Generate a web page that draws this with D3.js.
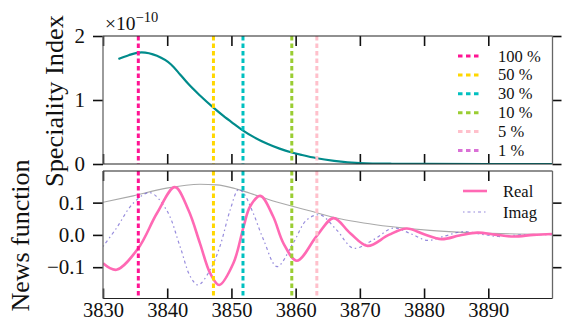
<!DOCTYPE html>
<html>
<head>
<meta charset="utf-8">
<script src="https://cdn.jsdelivr.net/npm/d3@7"></script>
<style>
  html, body { margin: 0; padding: 0; background: #fff; }
  svg { display: block; }
</style>
</head>
<body>
<svg id="chart" width="564" height="322" font-family="'Liberation Serif', 'DejaVu Serif', serif"></svg>
<script>
// ---------- data ----------
const xTicks = [3830, 3840, 3850, 3860, 3870, 3880, 3890];
const topYTicks = [0, 1, 2];
const botYTicks = [-0.1, 0.0, 0.1];

// Speciality index (in units of 1e-10)
const specX = [3832.4, 3834, 3836, 3838.4, 3840.6, 3842.0, 3843.2, 3845.1, 3847.2, 3848.7, 3850.2, 3851.7, 3853.5, 3855.5, 3857.5, 3859.4, 3861, 3863.3, 3866, 3870, 3875, 3880, 3890, 3900];
const specY = [1.64, 1.70, 1.745, 1.69, 1.555, 1.40, 1.26, 1.07, 0.88, 0.755, 0.64, 0.53, 0.42, 0.32, 0.24, 0.18, 0.14, 0.09, 0.05, 0.015, 0.004, 0.001, 0.0, 0.0];

// Threshold lines
const pctLabels = ["100 %", "50 %", "30 %", "10 %", "5 %", "1 %"];
const pctX = [3835.5, 3847.2, 3851.8, 3859.4, 3863.3, 3912];
const pctColors = ["#ff1493", "#ffd700", "#00c0c0", "#9acd32", "#ffc0cb", "#da70d6"];

// News function
const realX = [3830, 3832.1, 3835.5, 3838.4, 3841.2, 3843.3, 3845.1, 3846.7, 3848.1, 3850.3, 3851.9, 3852.9, 3854.5, 3856.5, 3858.1, 3860.2, 3863.3, 3865.9, 3868.5, 3871.2, 3874.5, 3877.3, 3880.0, 3882.7, 3885.5, 3888.3, 3891.0, 3893.9, 3897, 3900];
const realY = [-0.088, -0.108, -0.041, 0.067, 0.148, 0.077, -0.026, -0.119, -0.155, -0.088, 0.026, 0.088, 0.121, 0.057, -0.026, -0.080, -0.003, 0.052, 0.005, -0.034, 0.0, 0.020, 0.002, -0.013, -0.002, 0.007, 0.001, -0.005, 0.0, 0.003];

const imagX = [3830, 3832.1, 3834.7, 3837.3, 3839.9, 3842.0, 3843.6, 3844.8, 3846.7, 3848.2, 3849.8, 3851.1, 3851.9, 3853.4, 3855.0, 3857.1, 3859.6, 3861.7, 3863.8, 3866.4, 3869.0, 3872.1, 3875.2, 3878, 3880.5, 3883.3, 3886, 3889, 3891.6, 3895, 3900];
const imagY = [-0.036, 0.021, 0.098, 0.131, 0.077, -0.036, -0.129, -0.155, -0.108, -0.036, 0.077, 0.141, 0.129, 0.067, -0.015, -0.098, -0.026, 0.046, 0.062, 0.015, -0.041, -0.015, 0.021, 0.003, -0.017, -0.003, 0.010, 0.002, -0.005, 0.0, 0.001];

const envX = [3830, 3834.7, 3839.9, 3845.1, 3847.7, 3850.3, 3852.9, 3856.5, 3861.7, 3866.9, 3870.6, 3874.7, 3880.9, 3886, 3892, 3900];
const envY = [0.101, 0.121, 0.145, 0.157, 0.155, 0.145, 0.129, 0.105, 0.077, 0.050, 0.037, 0.026, 0.014, 0.008, 0.004, 0.002];

const newsLegend = ["Real", "Imag"];

// ---------- layout ----------
const FONT = "'Liberation Serif', 'DejaVu Serif', serif";
const svg = d3.select("#chart");
const L = 103, R = 552.5;
const topP = { t: 36, b: 164 };
const botP = { t: 171, b: 298.5 };

const x = d3.scaleLinear().domain([3830, 3900]).range([L, R]);
const yTop = d3.scaleLinear().domain([0, 2]).range([topP.b, topP.t]);
const yBot = d3.scaleLinear().domain([-0.197, 0.198]).range([botP.b, botP.t]);

const defs = svg.append("defs");
defs.append("clipPath").attr("id", "clipTop").append("rect")
  .attr("x", L).attr("y", topP.t).attr("width", R - L).attr("height", topP.b - topP.t);
defs.append("clipPath").attr("id", "clipBot").append("rect")
  .attr("x", L).attr("y", botP.t).attr("width", R - L).attr("height", botP.b - botP.t);

const fmtMinus = s => s.replace("-", "\u2212");

function styleText(sel, size) {
  sel.attr("font-size", size).attr("font-family", FONT).style("font-family", FONT).attr("fill", "#111");
  return sel;
}

function drawPanel(panel, y, yTicks, yFmt) {
  const gb = svg.append("g").attr("transform", `translate(0,${panel.b})`)
    .call(d3.axisBottom(x).tickValues(xTicks).tickSizeInner(-10).tickSizeOuter(0).tickFormat(""));
  const gt = svg.append("g").attr("transform", `translate(0,${panel.t})`)
    .call(d3.axisTop(x).tickValues(xTicks).tickSizeInner(-10).tickSizeOuter(0).tickFormat(""));
  const gl = svg.append("g").attr("transform", `translate(${L},0)`)
    .call(d3.axisLeft(y).tickValues(yTicks).tickSizeInner(10).tickSizeOuter(0).tickPadding(8).tickFormat(yFmt));
  const gr = svg.append("g").attr("transform", `translate(${R},0)`)
    .call(d3.axisRight(y).tickValues(yTicks).tickSizeInner(9).tickSizeOuter(0).tickFormat(""));
  [gb, gt, gl, gr].forEach(g => {
    g.attr("font-family", FONT);
    g.select(".domain").remove();
    g.selectAll(".tick line").attr("stroke", "#111").attr("stroke-width", 1.6);
  });
  styleText(gl.selectAll(".tick text"), 21);
}

// ---------- top panel ----------
drawPanel(topP, yTop, topYTicks, d => d3.format("d")(d));

const gTop = svg.append("g").attr("clip-path", "url(#clipTop)");
const specData = specX.map((d, i) => [d, specY[i]]);
gTop.append("path").datum(specData)
  .attr("fill", "none").attr("stroke", "#008b8b").attr("stroke-width", 2.2)
  .attr("d", d3.line().x(d => x(d[0])).y(d => yTop(d[1])).curve(d3.curveMonotoneX));

pctX.forEach((v, i) => {
  gTop.append("line").attr("x1", x(v)).attr("x2", x(v)).attr("y1", topP.t).attr("y2", topP.b)
    .attr("stroke", pctColors[i]).attr("stroke-width", 3).attr("stroke-dasharray", "4.5,3");
});

// offset text
const off = styleText(svg.append("text").attr("x", 105).attr("y", 29.5), 19.5);
off.append("tspan").text("\u00d710");
off.append("tspan").attr("font-size", 14.5).attr("dy", -7.5).text("\u221210");

// top legend
const lgTop = svg.append("g");
pctLabels.forEach((lab, i) => {
  const yy = 56 + i * 18.9;
  lgTop.append("line").attr("x1", 458).attr("x2", 481).attr("y1", yy).attr("y2", yy)
    .attr("stroke", pctColors[i]).attr("stroke-width", 3).attr("stroke-dasharray", "4.5,3.5");
  styleText(lgTop.append("text").attr("x", 498).attr("y", yy + 5.5), 16.5).text(lab);
});

// ---------- bottom panel ----------
drawPanel(botP, yBot, botYTicks, d => fmtMinus(d3.format(".1f")(d)));

const gBot = svg.append("g").attr("clip-path", "url(#clipBot)");
gBot.append("path").datum(envX.map((d, i) => [d, envY[i]]))
  .attr("fill", "none").attr("stroke", "#a9a9a9").attr("stroke-width", 1.1)
  .attr("d", d3.line().x(d => x(d[0])).y(d => yBot(d[1])).curve(d3.curveMonotoneX));
gBot.append("path").datum(imagX.map((d, i) => [d, imagY[i]]))
  .attr("fill", "none").attr("stroke", "#6a5acd").attr("stroke-width", 1.2).attr("stroke-opacity", 0.7)
  .attr("stroke-dasharray", "1.5,3,3,3")
  .attr("d", d3.line().x(d => x(d[0])).y(d => yBot(d[1])).curve(d3.curveCatmullRom.alpha(0.5)));
gBot.append("path").datum(realX.map((d, i) => [d, realY[i]]))
  .attr("fill", "none").attr("stroke", "#ff69b4").attr("stroke-width", 2.6)
  .attr("d", d3.line().x(d => x(d[0])).y(d => yBot(d[1])).curve(d3.curveCatmullRom.alpha(0.5)));

pctX.forEach((v, i) => {
  gBot.append("line").attr("x1", x(v)).attr("x2", x(v)).attr("y1", botP.t).attr("y2", botP.b)
    .attr("stroke", pctColors[i]).attr("stroke-width", 3).attr("stroke-dasharray", "4.5,3");
});

// bottom x labels
const gxl = svg.append("g").attr("transform", `translate(0,${botP.b})`)
  .call(d3.axisBottom(x).tickValues(xTicks).tickSize(0).tickPadding(4).tickFormat(d3.format("d")));
gxl.attr("font-family", FONT);
gxl.select(".domain").remove();
styleText(gxl.selectAll(".tick text"), 20.5);

// bottom legend
const lgBot = svg.append("g");
lgBot.append("line").attr("x1", 463).attr("x2", 487).attr("y1", 191).attr("y2", 191)
  .attr("stroke", "#ff69b4").attr("stroke-width", 2.6);
styleText(lgBot.append("text").attr("x", 503).attr("y", 196.5), 16.5).text(newsLegend[0]);
lgBot.append("line").attr("x1", 463).attr("x2", 487).attr("y1", 212).attr("y2", 212)
  .attr("stroke", "#6a5acd").attr("stroke-width", 1.2).attr("stroke-opacity", 0.7)
  .attr("stroke-dasharray", "1.5,3,3,3");
styleText(lgBot.append("text").attr("x", 503).attr("y", 217.5), 16.5).text(newsLegend[1]);

// ---------- spines ----------
[topP, botP].forEach(p => {
  svg.append("line").attr("x1", L).attr("x2", R).attr("y1", p.t).attr("y2", p.t).attr("stroke", "#222").attr("stroke-width", 1.2);
  svg.append("line").attr("x1", L).attr("x2", R).attr("y1", p.b).attr("y2", p.b).attr("stroke", "#222").attr("stroke-width", 1.2);
  svg.append("line").attr("x1", L).attr("x2", L).attr("y1", p.t).attr("y2", p.b).attr("stroke", "#666").attr("stroke-width", 1.3);
  svg.append("line").attr("x1", R).attr("x2", R).attr("y1", p.t).attr("y2", p.b).attr("stroke", "#666").attr("stroke-width", 1.3);
});

// ---------- axis titles ----------
styleText(svg.append("text").attr("transform", "translate(63,101) rotate(-90)"), 24.5)
  .attr("text-anchor", "middle")
  .attr("textLength", 172).attr("lengthAdjust", "spacingAndGlyphs")
  .text("Speciality Index");
styleText(svg.append("text").attr("transform", "translate(29,235.5) rotate(-90)"), 24.5)
  .attr("text-anchor", "middle")
  .attr("textLength", 152).attr("lengthAdjust", "spacingAndGlyphs")
  .text("News function");
</script>
</body>
</html>
